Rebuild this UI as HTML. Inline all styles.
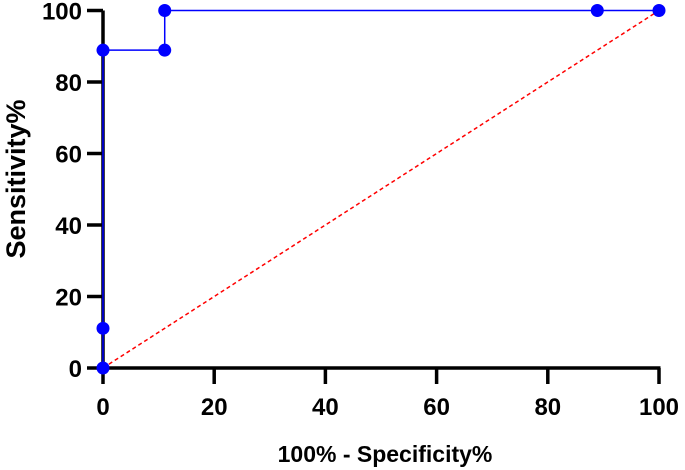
<!DOCTYPE html>
<html><head><meta charset="utf-8"><style>
html,body{margin:0;padding:0;background:#fff;width:685px;height:470px;overflow:hidden}
text{font-family:"Liberation Sans",Arial,sans-serif;font-weight:bold;fill:#000}
</style></head><body>
<svg width="685" height="470">
<g id="axes"></g><g id="series"></g>
<text x="385" y="462" font-size="23" text-anchor="middle">100% - Specificity%</text>
<text transform="translate(25,179) rotate(-90)" font-size="27" text-anchor="middle">Sensitivity%</text>
</svg>
<script>
const xTicks=[0,20,40,60,80,100];
const yTicks=[0,20,40,60,80,100];
const fpr=[0,0,0,11.1,11.1,88.9,100];
const tpr=[0,11.1,88.9,88.9,100,100,100];
const ns="http://www.w3.org/2000/svg";
const X=v=>103+v*5.56, Y=v=>368-v*3.575;
function mk(t,a,p){const e=document.createElementNS(ns,t);for(const k in a)e.setAttribute(k,a[k]);p.appendChild(e);return e;}
const ax=document.getElementById('axes'), se=document.getElementById('series');
let e=mk('line',{x1:X(0),y1:Y(100),x2:X(0),y2:Y(0)+1.5,stroke:'#000','stroke-width':3.5},ax);


e=mk('line',{x1:X(0)-1.5,y1:Y(0),x2:X(100)+1.5,y2:Y(0),stroke:'#000','stroke-width':3.5},ax);


yTicks.forEach(v=>{
 let l=mk('line',{x1:X(0)-16,y1:Y(v),x2:X(0),y2:Y(v),stroke:'#000','stroke-width':3.5},ax);
 
 
 let t=mk('text',{x:X(0)-21,y:Y(v)+9,'font-size':24,'text-anchor':'end'},ax);t.textContent=v;
 
 
});
xTicks.forEach(v=>{
 let l=mk('line',{x1:X(v),y1:Y(0),x2:X(v),y2:Y(0)+16,stroke:'#000','stroke-width':3.5},ax);
 
 
 let t=mk('text',{x:X(v),y:Y(0)+47,'font-size':24,'text-anchor':'middle'},ax);t.textContent=v;
 
 
});
e=mk('line',{x1:X(0),y1:Y(0),x2:X(100),y2:Y(100),stroke:'#f00','stroke-width':1.5,'stroke-dasharray':'4,3'},se);


let d='';fpr.forEach((v,i)=>{d+=(i?'L':'M')+X(v)+','+Y(tpr[i]);});
e=mk('path',{d:d,fill:'none',stroke:'#00f','stroke-width':1.5},se);


fpr.forEach((v,i)=>{
 let c=mk('circle',{cx:X(v),cy:Y(tpr[i]),r:6.5,fill:'#00f'},se);
 
 
});
</script>
</body></html>
